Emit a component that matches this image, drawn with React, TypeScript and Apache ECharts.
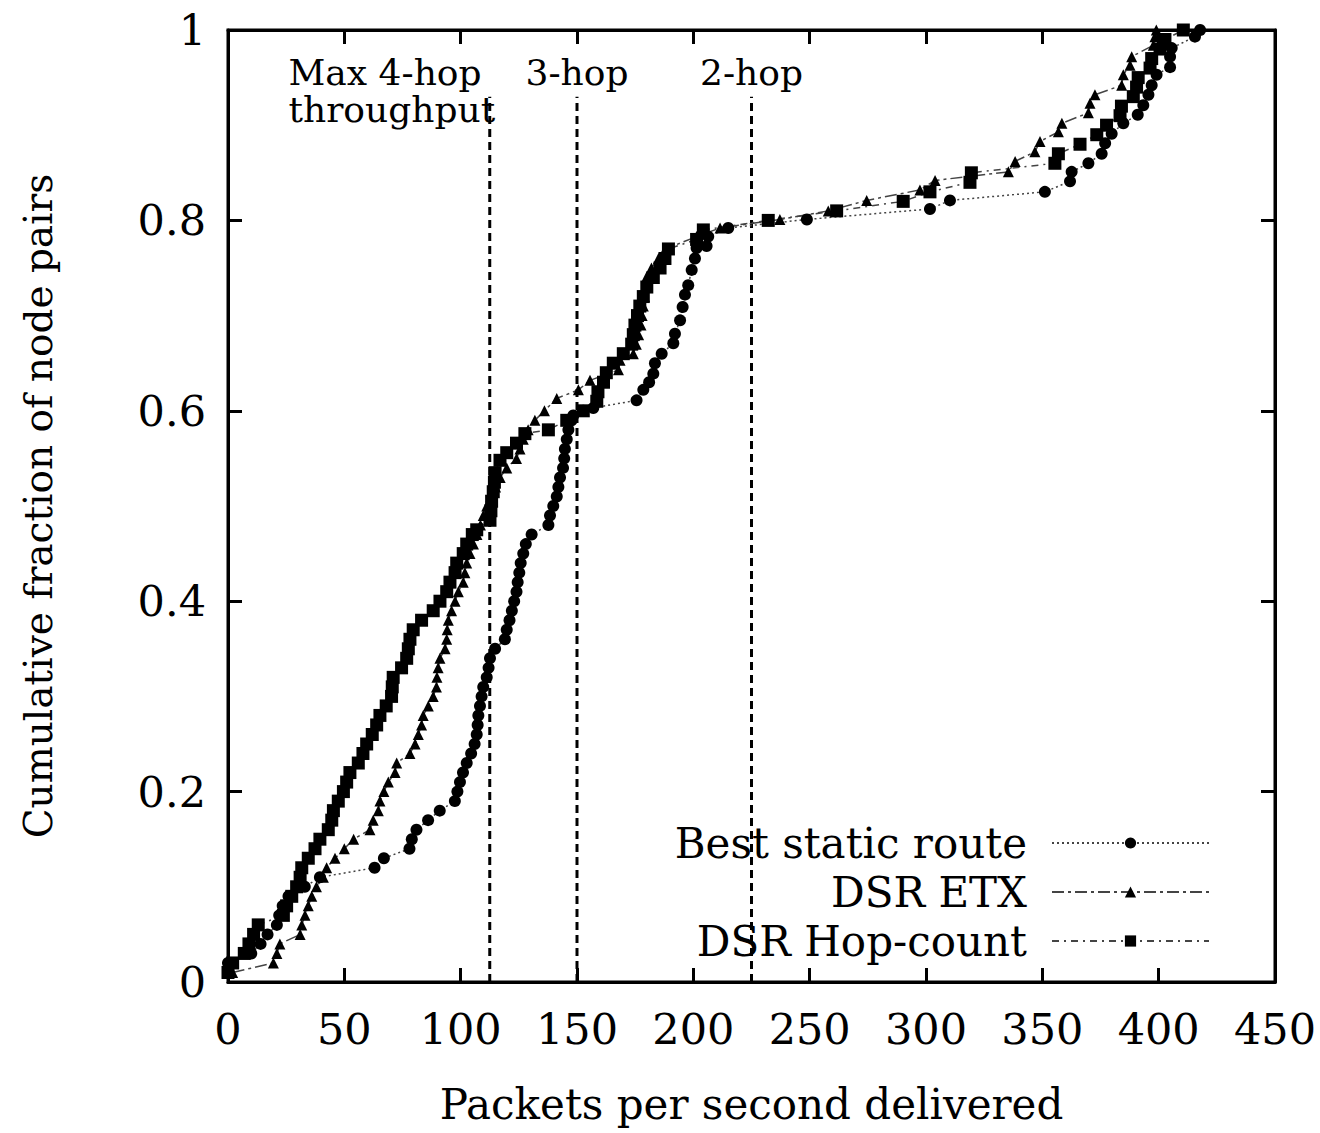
import React, { useEffect, useRef } from "react";
import * as echarts from "echarts";

const FONT = '"DejaVu Serif", "Liberation Serif", serif';

const seriesNames = ["Best static route", "DSR ETX", "DSR Hop-count"];

// [packets per second, cumulative fraction]
const staticRoute: number[][] = [
  [0, 0.01], [0, 0.02], [10, 0.03], [14, 0.04], [17, 0.05], [21, 0.06], [22, 0.07], [23.5, 0.08], [26, 0.09], [33, 0.1],
  [39.5, 0.11], [63, 0.12], [67, 0.13], [78, 0.14], [79, 0.15], [81, 0.16], [86, 0.17], [91, 0.18], [97.5, 0.19], [98.6, 0.2],
  [99.7, 0.21], [101, 0.22], [102.6, 0.23], [104.5, 0.24], [106, 0.25], [106.9, 0.26], [107.3, 0.27], [107.6, 0.28], [108.3, 0.29], [109, 0.3],
  [109.7, 0.31], [111.2, 0.32], [112, 0.33], [112.6, 0.34], [114.8, 0.35], [119, 0.36], [119.8, 0.37], [121, 0.38], [122, 0.39], [123, 0.4],
  [124, 0.41], [124.5, 0.42], [125.2, 0.43], [125.8, 0.44], [126.9, 0.45], [128, 0.46], [130.5, 0.47], [137.7, 0.48], [138.4, 0.49], [139.8, 0.5],
  [141.3, 0.51], [142, 0.52], [142.7, 0.53], [144, 0.54], [144.5, 0.55], [144.8, 0.56], [145.6, 0.57], [146.3, 0.58], [147.7, 0.59], [148.4, 0.595],
  [152.7, 0.6], [157, 0.603], [175.6, 0.611], [178.5, 0.622], [181, 0.63], [182.8, 0.639], [183.5, 0.65], [186.4, 0.66], [191.4, 0.671], [192.1, 0.681],
  [194.3, 0.695], [195.4, 0.709], [196.4, 0.722], [197.8, 0.732], [199.3, 0.748], [200.7, 0.76], [201.4, 0.771], [205.7, 0.773], [206.4, 0.783], [215, 0.792],
  [248.8, 0.801], [301.7, 0.812], [310.3, 0.821], [351.1, 0.83], [361.9, 0.841], [362.6, 0.851], [369.8, 0.86], [375.5, 0.87], [377, 0.881], [379.8, 0.891],
  [384.8, 0.902], [391, 0.911], [393.4, 0.921], [395.6, 0.932], [397, 0.942], [399.1, 0.953], [404.9, 0.961], [404.9, 0.972], [405.6, 0.981], [415.6, 0.993],
  [417.8, 1.0],
];

const dsrEtx: number[][] = [
  [2, 0.01], [19.5, 0.02], [21, 0.03], [22.3, 0.04], [31, 0.05], [31.7, 0.06], [33.1, 0.07], [34.5, 0.08], [36, 0.09], [38, 0.1],
  [41, 0.11], [42.4, 0.12], [46, 0.13], [50, 0.14], [54, 0.15], [61, 0.16], [62.4, 0.17], [64.6, 0.18], [65.3, 0.19], [67, 0.2],
  [68.9, 0.21], [71.8, 0.22], [72.5, 0.23], [78.2, 0.24], [80.4, 0.25], [81.8, 0.26], [83.2, 0.27], [83.9, 0.28], [86.1, 0.29], [88.2, 0.3],
  [89.6, 0.31], [89.8, 0.32], [90.3, 0.33], [91.1, 0.34], [93.3, 0.35], [94, 0.36], [94.2, 0.37], [94.7, 0.38], [96.1, 0.39], [97.6, 0.4],
  [99, 0.41], [101.1, 0.42], [101.8, 0.43], [102.6, 0.44], [104, 0.45], [105.5, 0.46], [107, 0.47], [108.5, 0.48], [109.7, 0.49], [111.2, 0.5],
  [113, 0.51], [115, 0.52], [117, 0.53], [119.8, 0.54], [124, 0.55], [125.5, 0.56], [126.9, 0.57], [129, 0.58], [131.9, 0.59], [136, 0.6],
  [141.3, 0.613], [150.6, 0.622], [155.6, 0.632], [167.8, 0.643], [168.5, 0.653], [174.2, 0.66], [175.5, 0.67], [176.5, 0.68], [177.5, 0.69], [178, 0.7],
  [178.5, 0.71], [179, 0.72], [179.5, 0.73], [180, 0.741], [182, 0.75], [185, 0.76], [188, 0.77], [201.4, 0.783], [211.5, 0.792], [237.2, 0.801],
  [258, 0.81], [274.5, 0.821], [297.4, 0.832], [303.9, 0.842], [335.4, 0.851], [338.3, 0.862], [346.8, 0.872], [349, 0.883], [356.9, 0.893], [358.4, 0.902],
  [369.8, 0.913], [370.5, 0.923], [372.6, 0.932], [384.1, 0.942], [384.8, 0.953], [387.7, 0.963], [388.4, 0.972], [397.7, 0.984], [398.4, 0.993], [399, 1.0],
];

const dsrHop: number[][] = [
  [0, 0.01], [2, 0.02], [7, 0.03], [9, 0.04], [11, 0.05], [13, 0.06], [23.8, 0.07], [25.2, 0.08], [27.4, 0.09], [29.5, 0.1],
  [31, 0.11], [31.7, 0.12], [34.5, 0.13], [37.4, 0.14], [39.5, 0.15], [43.1, 0.16], [44.6, 0.17], [45.3, 0.18], [47.4, 0.19], [49.6, 0.2],
  [51, 0.21], [52.4, 0.22], [56, 0.23], [58, 0.24], [59.6, 0.25], [62, 0.26], [63.9, 0.27], [65.3, 0.28], [68, 0.29], [70.3, 0.3],
  [70.6, 0.31], [71, 0.32], [74.6, 0.33], [76.8, 0.34], [77.5, 0.35], [78.2, 0.36], [79.6, 0.37], [83.2, 0.38], [88.2, 0.39], [91.1, 0.4],
  [94, 0.41], [95.4, 0.42], [97.6, 0.43], [98.3, 0.44], [101.1, 0.45], [102.6, 0.46], [105, 0.47], [106.9, 0.475], [112.6, 0.485], [113, 0.495],
  [113.3, 0.505], [114, 0.515], [114.5, 0.525], [114.8, 0.535], [116.9, 0.548], [119.8, 0.556], [124, 0.566], [127.6, 0.576], [137.7, 0.58], [145.6, 0.59],
  [152.7, 0.6], [158.5, 0.61], [159, 0.62], [161.4, 0.63], [162.6, 0.64], [165.6, 0.65], [169.9, 0.66], [173.5, 0.67], [174.2, 0.68], [174.9, 0.69],
  [176, 0.7], [177, 0.71], [178.5, 0.72], [180, 0.73], [182.8, 0.74], [185.7, 0.75], [187.8, 0.76], [189.3, 0.77], [201.4, 0.78], [204.3, 0.79],
  [232.2, 0.8], [261.6, 0.81], [290.2, 0.82], [301.7, 0.83], [318.9, 0.84], [319.5, 0.85], [355.4, 0.86], [356.9, 0.87], [366.2, 0.88], [373.4, 0.89],
  [377.6, 0.9], [383.4, 0.91], [384, 0.92], [389.1, 0.93], [390.5, 0.94], [391.2, 0.95], [396.3, 0.96], [397, 0.97], [400.6, 0.98], [402.7, 0.99],
  [410.6, 1.0],
];

// hop-limit reference lines (packets per second) and their labels
const hopLines = [112.5, 150, 225];
const hopLineTop = 0.93;
const hopLabels = [
  { x: 26, y: 0.936, text: "Max 4-hop\nthroughput", align: "left" },
  { x: 150, y: 0.955, text: "3-hop", align: "center" },
  { x: 225, y: 0.955, text: "2-hop", align: "center" },
];

export default function App() {
  const ref = useRef<HTMLDivElement>(null);
  useEffect(() => {
    if (!ref.current) return;
    const chart = echarts.init(ref.current, null, { renderer: "svg" });

    const axisCommon = {
      type: "value" as const,
      splitLine: { show: false },
      axisLine: { show: true, onZero: false, lineStyle: { color: "#000", width: 3 } },
      axisTick: { show: true, inside: true, length: 14, lineStyle: { color: "#000", width: 3 } },
    };

    const lineSeries = (name: string, data: number[][], symbol: string, size: number, dash: number[]) => ({
      name,
      type: "line",
      data,
      symbol,
      symbolSize: size,
      showSymbol: true,
      itemStyle: { color: "#000" },
      lineStyle: { color: "#444", width: 1.5, type: dash },
      z: 3,
    });

    chart.setOption({
      animation: false,
      backgroundColor: "#fff",
      grid: { left: 228, right: 45, top: 30, bottom: 151, show: true, borderColor: "#000", borderWidth: 3 },
      xAxis: [
        {
          ...axisCommon,
          min: 0,
          max: 450,
          interval: 50,
          position: "bottom",
          axisLabel: { fontFamily: FONT, fontSize: 43, color: "#000", margin: 25 },
          name: "Packets per second delivered",
          nameLocation: "middle",
          nameGap: 101,
          nameTextStyle: { fontFamily: FONT, fontSize: 42, color: "#000" },
        },
        { ...axisCommon, min: 0, max: 450, interval: 50, position: "top", axisLabel: { show: false } },
      ],
      yAxis: [
        {
          ...axisCommon,
          min: 0,
          max: 1,
          interval: 0.2,
          position: "left",
          axisLabel: { fontFamily: FONT, fontSize: 43, color: "#000", margin: 22 },
          name: "Cumulative fraction of node pairs",
          nameLocation: "middle",
          nameRotate: 90,
          nameGap: 170,
          nameTextStyle: { fontFamily: FONT, fontSize: 39, color: "#000" },
        },
        { ...axisCommon, min: 0, max: 1, interval: 0.2, position: "right", axisLabel: { show: false } },
      ],
      legend: {
        data: seriesNames,
        orient: "vertical",
        right: 110,
        top: 822,
        align: "right",
        itemWidth: 157,
        itemHeight: 14,
        itemGap: 7,
        padding: 0,
        selectedMode: false,
        textStyle: { fontFamily: FONT, fontSize: 42, color: "#000", lineHeight: 42, padding: [0, 20, 0, 0] },
      },
      series: [
        ...hopLines.map((v) => ({
          type: "line",
          data: [[v, 0], [v, hopLineTop]],
          symbol: "none",
          lineStyle: { color: "#000", width: 3, type: [8, 5] },
          z: 2,
          silent: true,
        })),
        {
          type: "scatter",
          symbolSize: 0,
          silent: true,
          itemStyle: { opacity: 1, color: "#000" },
          data: hopLabels.map((l) => ({
            value: [l.x, l.y],
            label: {
              show: true,
              position: "inside",
              formatter: l.text,
              align: l.align,
              verticalAlign: "middle",
              fontFamily: FONT,
              fontSize: 36,
              lineHeight: 37,
              color: "#000",
              textBorderWidth: 0,
            },
          })),
        },
        lineSeries(seriesNames[0], staticRoute, "circle", 12, [2, 3]),
        lineSeries(seriesNames[1], dsrEtx, "triangle", 11, [12, 4, 3, 4]),
        lineSeries(seriesNames[2], dsrHop, "rect", 13, [7, 5, 2, 5]),
      ],
    });
    return () => chart.dispose();
  }, []);

  return <div ref={ref} style={{ position: "absolute", left: 0, top: 0, width: 1320, height: 1133 }} />;
}
